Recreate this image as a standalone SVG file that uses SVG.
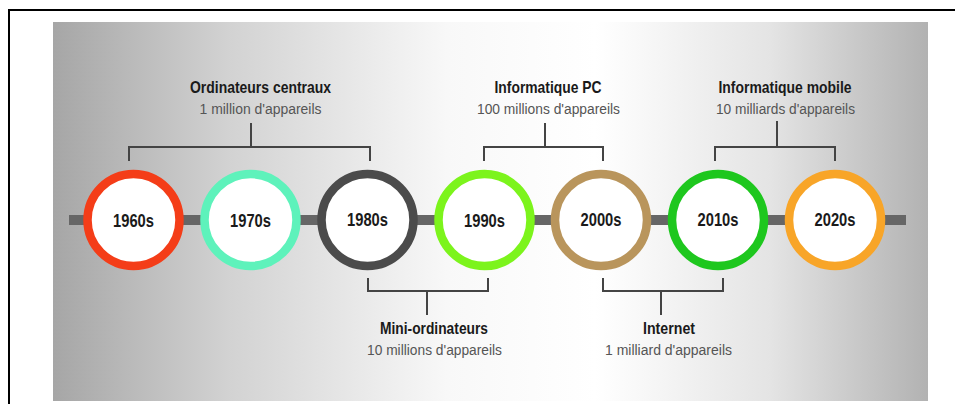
<svg xmlns="http://www.w3.org/2000/svg" width="955" height="404" viewBox="0 0 955 404">
<defs>
<linearGradient id="bg" x1="53" y1="0" x2="928" y2="0" gradientUnits="userSpaceOnUse">
<stop offset="0" stop-color="#a6a6a6"/>
<stop offset="0.2" stop-color="#d2d2d2"/>
<stop offset="0.45" stop-color="#f8f8f8"/>
<stop offset="0.62" stop-color="#ffffff"/>
<stop offset="0.82" stop-color="#e4e4e4"/>
<stop offset="1" stop-color="#b2b2b2"/>
</linearGradient>
<style>
.ring{fill:#ffffff;stroke-width:8.5}
.yr{font-family:"Liberation Sans",Arial,sans-serif;font-weight:bold;font-size:19px;fill:#1a1a1a;text-anchor:middle}
.ttl{font-family:"Liberation Sans",Arial,sans-serif;font-weight:bold;font-size:17px;fill:#1a1a1a;text-anchor:middle}
.sub{font-family:"Liberation Sans",Arial,sans-serif;font-size:15.5px;fill:#555555;text-anchor:middle}
.br{fill:none;stroke:#444444;stroke-width:2}
</style>
</defs>
<rect x="9" y="10" width="960" height="410" fill="#ffffff" stroke="#000000" stroke-width="2"/>
<rect x="53" y="22" width="875" height="379" fill="url(#bg)"/>
<g id="connectors">
<rect x="69" y="215" width="837" height="10" fill="#666666"/>
<path class="br" d="M129 161V147H370V161M251 147V123"/>
<path class="br" d="M484 161V147H603V161M545 147V123"/>
<path class="br" d="M715 161V147H835V161M777 147V121"/>
<path class="br" d="M368 278V291H488V278M427 291V315"/>
<path class="br" d="M603 278V291H723V278M661 291V315"/>
</g>
<g id="n1960"><circle class="ring" cx="133.5" cy="220" r="46" stroke="#f43d18"/><text class="yr" x="133.5" y="226.5" textLength="41" lengthAdjust="spacingAndGlyphs">1960s</text></g>
<g id="n1970"><circle class="ring" cx="250.5" cy="220" r="46" stroke="#5ef2bb"/><text class="yr" x="250.5" y="227" textLength="41" lengthAdjust="spacingAndGlyphs">1970s</text></g>
<g id="n1980"><circle class="ring" cx="367.5" cy="220" r="46" stroke="#4b4b4b"/><text class="yr" x="367.5" y="225.5" textLength="41" lengthAdjust="spacingAndGlyphs">1980s</text></g>
<g id="n1990"><circle class="ring" cx="484.5" cy="220" r="46" stroke="#7cf41c"/><text class="yr" x="484.5" y="226.5" textLength="41" lengthAdjust="spacingAndGlyphs">1990s</text></g>
<g id="n2000"><circle class="ring" cx="601" cy="220" r="46" stroke="#b9955c"/><text class="yr" x="601" y="225.5" textLength="41" lengthAdjust="spacingAndGlyphs">2000s</text></g>
<g id="n2010"><circle class="ring" cx="718" cy="220" r="46" stroke="#1ec71e"/><text class="yr" x="718" y="225.5" textLength="41" lengthAdjust="spacingAndGlyphs">2010s</text></g>
<g id="n2020"><circle class="ring" cx="835" cy="220" r="46" stroke="#f8a528"/><text class="yr" x="835" y="225.5" textLength="41" lengthAdjust="spacingAndGlyphs">2020s</text></g>
<g id="l-centraux"><text class="ttl" x="260.5" y="92.5" textLength="141" lengthAdjust="spacingAndGlyphs">Ordinateurs centraux</text><text class="sub" x="260.5" y="114" textLength="122" lengthAdjust="spacingAndGlyphs">1 million d'appareils</text></g>
<g id="l-pc"><text class="ttl" x="548" y="92.5" textLength="107" lengthAdjust="spacingAndGlyphs">Informatique PC</text><text class="sub" x="548.5" y="114" textLength="143" lengthAdjust="spacingAndGlyphs">100 millions d'appareils</text></g>
<g id="l-mobile"><text class="ttl" x="785" y="92.5" textLength="133" lengthAdjust="spacingAndGlyphs">Informatique mobile</text><text class="sub" x="785.5" y="114" textLength="139" lengthAdjust="spacingAndGlyphs">10 milliards d'appareils</text></g>
<g id="l-mini"><text class="ttl" x="434" y="333.5" textLength="108" lengthAdjust="spacingAndGlyphs">Mini-ordinateurs</text><text class="sub" x="434.5" y="355" textLength="135" lengthAdjust="spacingAndGlyphs">10 millions d'appareils</text></g>
<g id="l-internet"><text class="ttl" x="669" y="333.5" textLength="52" lengthAdjust="spacingAndGlyphs">Internet</text><text class="sub" x="668.5" y="355" textLength="127" lengthAdjust="spacingAndGlyphs">1 milliard d'appareils</text></g>
</svg>
